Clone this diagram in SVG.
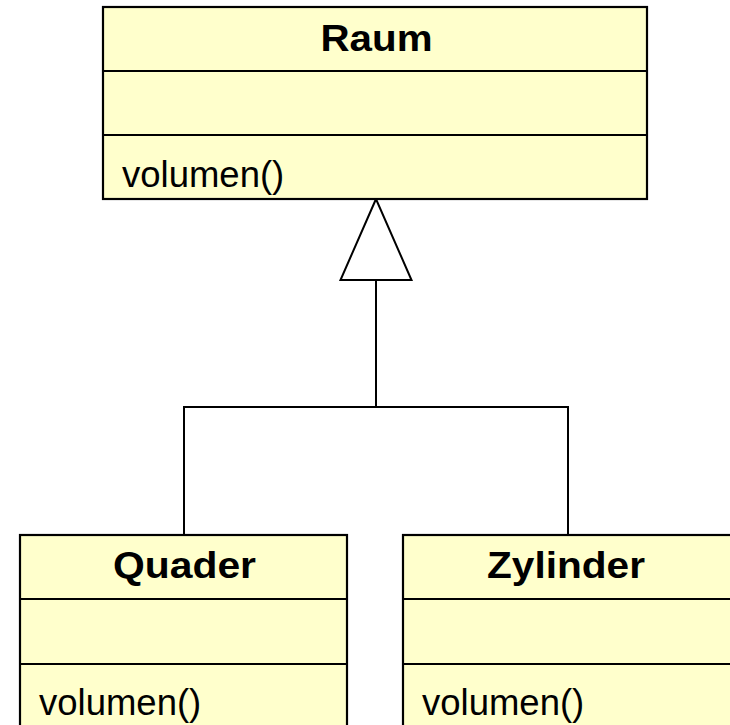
<svg xmlns="http://www.w3.org/2000/svg" width="730" height="725" viewBox="0 0 730 725">
<style>
.box{fill:#FFFFCC;stroke:#000;stroke-width:2.2}
.div{stroke:#000;stroke-width:2.2}
.title{font-family:"Liberation Sans",Arial,sans-serif;font-size:36px;font-weight:bold;text-anchor:middle;fill:#000}
.op{font-family:"Liberation Sans",Arial,sans-serif;font-size:36.5px;fill:#000}
.conn{fill:none;stroke:#000;stroke-width:2}
</style>
<rect width="730" height="725" fill="#fff"/>
<g id="connectors">
<polyline class="conn" points="184,535 184,407 568,407 568,535"/>
<line class="conn" x1="376" y1="407" x2="376" y2="280"/>
<polygon class="conn" points="376,199 340.5,280 411.5,280" style="fill:#fff"/>
</g>
<g id="Raum">
<rect class="box" x="103" y="7" width="544" height="192"/>
<line class="div" x1="103" y1="71" x2="647" y2="71"/>
<line class="div" x1="103" y1="135" x2="647" y2="135"/>
<text class="title" x="376.5" y="51" textLength="112" lengthAdjust="spacingAndGlyphs">Raum</text>
<text class="op" x="122" y="187">volumen()</text>
</g>
<g id="Quader">
<rect class="box" x="20" y="535" width="327" height="200"/>
<line class="div" x1="20" y1="599" x2="347" y2="599"/>
<line class="div" x1="20" y1="664" x2="347" y2="664"/>
<text class="title" x="184.5" y="578" textLength="143" lengthAdjust="spacingAndGlyphs">Quader</text>
<text class="op" x="39" y="715">volumen()</text>
</g>
<g id="Zylinder">
<rect class="box" x="403" y="535" width="330" height="200"/>
<line class="div" x1="403" y1="599" x2="733" y2="599"/>
<line class="div" x1="403" y1="664" x2="733" y2="664"/>
<text class="title" x="566" y="578" textLength="158" lengthAdjust="spacingAndGlyphs">Zylinder</text>
<text class="op" x="422" y="715">volumen()</text>
</g>
</svg>
